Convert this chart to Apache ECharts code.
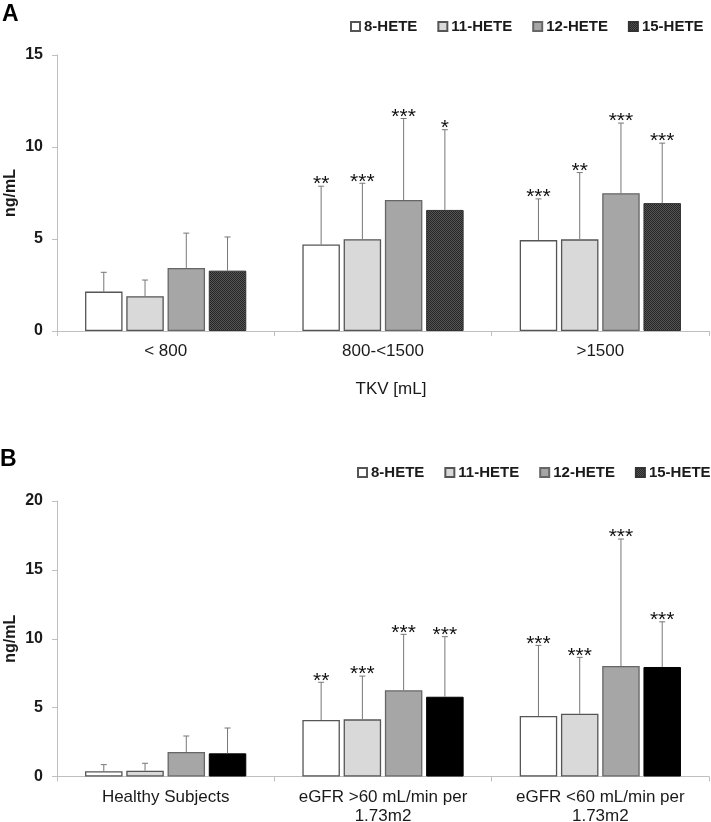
<!DOCTYPE html>
<html>
<head>
<meta charset="utf-8">
<script src="https://cdn.jsdelivr.net/npm/echarts@6/dist/echarts.min.js"></script>
<style>
html,body{margin:0;padding:0;background:#fff;}
#c{width:711px;height:822px;}
</style>
</head>
<body>
<div id="c"></div>
<script>
// ---------- DATA ----------
const seriesNames = ['8-HETE', '11-HETE', '12-HETE', '15-HETE'];

// Panel A (TKV)
const catsA = ['< 800', '800-<1500', '>1500'];
const a8 = [2.14, 4.70, 4.94];
const a11 = [1.89, 4.99, 4.98];
const a12 = [3.43, 7.12, 7.49];
const a15 = [3.28, 6.58, 6.95];
const a8sd = [1.05, 3.17, 2.24];
const a11sd = [0.88, 3.04, 3.63];
const a12sd = [1.89, 4.43, 3.81];
const a15sd = [1.83, 4.36, 3.26];
const a8star = ['', '**', '***'];
const a11star = ['', '***', '**'];
const a12star = ['', '***', '***'];
const a15star = ['', '*', '***'];
const ticksA = {min: 0, max: 15, interval: 5};

// Panel B (eGFR)
const catsB = ['Healthy Subjects', 'eGFR >60 mL/min per\n1.73m2', 'eGFR <60 mL/min per\n1.73m2'];
const b8 = [0.38, 4.10, 4.39];
const b11 = [0.42, 4.15, 4.56];
const b12 = [1.78, 6.26, 8.02];
const b15 = [1.68, 5.79, 7.95];
const b8sd = [0.48, 2.74, 5.13];
const b11sd = [0.54, 3.14, 4.09];
const b12sd = [1.16, 4.06, 9.22];
const b15sd = [1.84, 4.36, 3.28];
const b8star = ['', '**', '***'];
const b11star = ['', '***', '***'];
const b12star = ['', '***', '***'];
const b15star = ['', '***', '***'];
const ticksB = {min: 0, max: 20, interval: 5};

// ---------- STYLE ----------
const BW = 37.5, GAP = 3.75;
const FONT = "'Liberation Sans', Arial, sans-serif";
const TXT = '#1a1a1a';
const AXIS = '#bfbfbf';

const pc = document.createElement('canvas');
pc.width = 2; pc.height = 2;
const pctx = pc.getContext('2d');
pctx.fillStyle = '#555555'; pctx.fillRect(0, 0, 2, 2);
pctx.fillStyle = '#262626'; pctx.fillRect(0, 0, 1, 1); pctx.fillRect(1, 1, 1, 1);
const pattern = {image: pc, repeat: 'repeat'};

const stylesA = [
  {color: '#ffffff', borderColor: '#555', borderWidth: 1.3},
  {color: '#d9d9d9', borderColor: '#555', borderWidth: 1.3},
  {color: '#a6a6a6', borderColor: '#666', borderWidth: 1.3},
  {color: pattern, borderColor: '#333', borderWidth: 1}
];
const stylesB = [
  {color: '#ffffff', borderColor: '#555', borderWidth: 1.3},
  {color: '#d9d9d9', borderColor: '#555', borderWidth: 1.3},
  {color: '#a6a6a6', borderColor: '#666', borderWidth: 1.3},
  {color: '#000000', borderColor: '#000', borderWidth: 1}
];

function errSeries(idx, means, sds, stars, gi, nm) {
  const off = (idx - 1.5) * (BW + GAP);
  return {
    type: 'custom',
    name: nm,
    xAxisIndex: gi, yAxisIndex: gi,
    z: 5,
    clip: false,
    data: means.map((m, i) => [i, m, sds[i]]),
    renderItem: function (params, api) {
      const c = api.value(0), m = api.value(1), s = api.value(2);
      const top = api.coord([c, m + s]);
      const base = api.coord([c, m]);
      const x = top[0] + off;
      const star = stars[params.dataIndex];
      const children = [
        {type: 'line', shape: {x1: x, y1: base[1], x2: x, y2: top[1]}, style: {stroke: '#777', lineWidth: 1}},
        {type: 'line', shape: {x1: x - 3, y1: top[1], x2: x + 3, y2: top[1]}, style: {stroke: '#777', lineWidth: 1}}
      ];
      if (star) {
        children.push({type: 'text', x: x, y: top[1] - 1.5,
          style: {text: star, fill: '#111', font: '21px ' + FONT, textAlign: 'center', textVerticalAlign: 'middle'}});
      }
      return {type: 'group', children: children};
    }
  };
}

function barSeries(idx, data, gi, styles) {
  return {
    type: 'bar', name: seriesNames[idx],
    xAxisIndex: gi, yAxisIndex: gi,
    data: data, barWidth: BW, barGap: '10%',
    itemStyle: styles[idx],
    emphasis: {disabled: true}
  };
}

const yAxisCommon = {
  type: 'value',
  axisLine: {show: true, lineStyle: {color: AXIS, width: 1}},
  axisTick: {show: true, length: 5, lineStyle: {color: AXIS}},
  splitLine: {show: false},
  axisLabel: {color: TXT, fontFamily: FONT, fontSize: 16, fontWeight: 'bold', margin: 14},
  name: 'ng/mL', nameLocation: 'middle', nameGap: 38, nameMoveOverlap: false,
  nameTextStyle: {color: TXT, fontFamily: FONT, fontSize: 16, fontWeight: 'bold'}
};
const xAxisCommon = {
  type: 'category',
  axisLine: {show: true, lineStyle: {color: AXIS, width: 1}},
  axisTick: {show: true, length: 5, alignWithLabel: false, lineStyle: {color: AXIS}},
  axisLabel: {color: TXT, fontFamily: FONT, fontSize: 17, margin: 11, lineHeight: 19, interval: 0}
};
const legendCommon = {
  data: seriesNames, icon: 'rect', itemWidth: 9, itemHeight: 9, itemGap: 20,
  padding: 0, orient: 'horizontal',
  textStyle: {color: TXT, fontFamily: FONT, fontSize: 15, fontWeight: 'bold', padding: [0, 0, 0, -1]},
  selectedMode: false
};

const option = {
  animation: false,
  backgroundColor: '#fff',
  title: [
    {text: 'A', left: 2, top: 3, padding: 0, textStyle: {fontFamily: FONT, fontSize: 23, fontWeight: 'bold', color: '#000'}},
    {text: 'B', left: 0, top: 448, padding: 0, textStyle: {fontFamily: FONT, fontSize: 23, fontWeight: 'bold', color: '#000'}}
  ],
  legend: [
    Object.assign({}, legendCommon, {left: 350, top: 19}),
    Object.assign({}, legendCommon, {left: 357, top: 465})
  ],
  grid: [
    {left: 57, right: 2, top: 55, height: 276, containLabel: false, outerBoundsMode: 'none'},
    {left: 57, right: 2, top: 501, height: 275.5, containLabel: false, outerBoundsMode: 'none'}
  ],
  xAxis: [
    Object.assign({}, xAxisCommon, {gridIndex: 0, data: catsA,
      name: 'TKV [mL]', nameLocation: 'middle', nameGap: 50, nameMoveOverlap: false,
      nameTextStyle: {color: TXT, fontFamily: FONT, fontSize: 17, padding: [0, 0, 0, 16]}}),
    Object.assign({}, xAxisCommon, {gridIndex: 1, data: catsB})
  ],
  yAxis: [
    Object.assign({}, yAxisCommon, {gridIndex: 0}, ticksA),
    Object.assign({}, yAxisCommon, {gridIndex: 1}, ticksB)
  ],
  series: [
    barSeries(0, a8, 0, stylesA), barSeries(1, a11, 0, stylesA),
    barSeries(2, a12, 0, stylesA), barSeries(3, a15, 0, stylesA),
    errSeries(0, a8, a8sd, a8star, 0, 'eA8'), errSeries(1, a11, a11sd, a11star, 0, 'eA11'),
    errSeries(2, a12, a12sd, a12star, 0, 'eA12'), errSeries(3, a15, a15sd, a15star, 0, 'eA15'),
    barSeries(0, b8, 1, stylesB), barSeries(1, b11, 1, stylesB),
    barSeries(2, b12, 1, stylesB), barSeries(3, b15, 1, stylesB),
    errSeries(0, b8, b8sd, b8star, 1, 'eB8'), errSeries(1, b11, b11sd, b11star, 1, 'eB11'),
    errSeries(2, b12, b12sd, b12star, 1, 'eB12'), errSeries(3, b15, b15sd, b15star, 1, 'eB15')
  ]
};

const chart = echarts.init(document.getElementById('c'), null, {renderer: 'canvas'});
chart.setOption(option);
</script>
</body>
</html>
